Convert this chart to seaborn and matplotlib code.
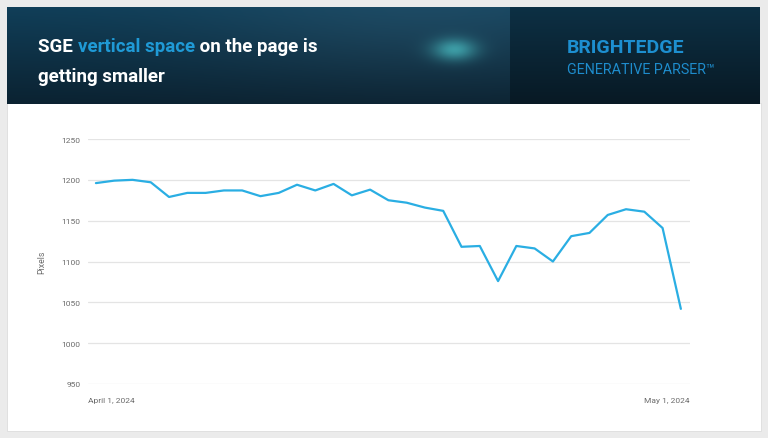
import matplotlib
matplotlib.use("Agg")
import matplotlib.pyplot as plt
import seaborn as sns
import numpy as np
import pandas as pd
from matplotlib.patches import Rectangle

# daily SGE height in pixels, April 1 -> May 1 2024
day_index = list(range(33))
pixels = [1196, 1199, 1200, 1197, 1179, 1184, 1184, 1187, 1187, 1180,
          1184, 1194, 1187, 1195, 1181, 1188, 1175, 1172, 1166, 1162,
          1118, 1119, 1076, 1119, 1116, 1100, 1131, 1135, 1157, 1164,
          1161, 1141, 1042]
y_ticks = [950, 1000, 1050, 1100, 1150, 1200, 1250]
date_labels = ["April 1, 2024", "May 1, 2024"]

title_parts = [("SGE ", "white"), ("vertical space", "#1f9ad6"), (" on the page is", "white")]
title_line2 = "getting smaller"

df = pd.DataFrame({"day": day_index, "pixels": pixels})

sns.set_style("white")
plt.rcParams["font.family"] = ["Roboto", "DejaVu Sans"]

W, H = 768, 439
fig = plt.figure(figsize=(W / 100, H / 100), dpi=100, facecolor="#ebebeb")

def fx(px):
    return px / W

def fy(py):
    return 1 - py / H

# white card (behind everything)
fig.patches.append(Rectangle((fx(7), fy(432)), fx(754), (432 - 104) / H,
                             transform=fig.transFigure, facecolor="white",
                             edgecolor="#dddddd", lw=0.6, zorder=-5))

# header banner with gradient
hx0, hx1, hy0, hy1 = 7, 760, 8, 105
hdr = fig.add_axes([fx(hx0), fy(hy1), fx(hx1 - hx0), (hy1 - hy0) / H])
hw, hh = hx1 - hx0, hy1 - hy0
yy, xx = np.mgrid[0:hh, 0:hw]
t = yy / hh
top_l = np.array([0x10, 0x3e, 0x58]) / 255
bot_l = np.array([0x0b, 0x22, 0x31]) / 255
top_r = np.array([0x0d, 0x30, 0x44]) / 255
bot_r = np.array([0x08, 0x19, 0x24]) / 255
left = top_l[None, None, :] * (1 - t[..., None]) + bot_l[None, None, :] * t[..., None]
right = top_r[None, None, :] * (1 - t[..., None]) + bot_r[None, None, :] * t[..., None]
haze = np.exp(-((xx - 420) / 220) ** 2 - ((yy - 10) / 70) ** 2)[..., None] * 0.05
img = np.where((xx < 503)[..., None], left + haze, right)
# blurred glow blob
glow = np.exp(-((xx - 447) / 22) ** 2 - ((yy - 42) / 11) ** 2)[..., None]
glow_col = np.array([0x4c, 0xc4, 0xc8]) / 255
img = img * (1 - 0.7 * glow) + glow_col * 0.7 * glow
hdr.imshow(np.clip(img, 0, 1), aspect="auto", extent=[0, hw, hh, 0],
           interpolation="nearest")
hdr.set_axis_off()

# title text, multi-coloured first line
fig.canvas.draw()
renderer = fig.canvas.get_renderer()
x = fx(38)
for txt, col in title_parts:
    tt = fig.text(x, fy(52), txt, color=col, fontsize=13.5, fontweight="bold",
                  va="baseline", ha="left")
    bb = tt.get_window_extent(renderer)
    x += bb.width / W
fig.text(fx(38), fy(82), title_line2, color="white", fontsize=13.5,
         fontweight="bold", va="baseline", ha="left")

fig.text(fx(567), fy(53), "BRIGHTEDGE", color="#1d8fd0", fontsize=14,
         fontweight="bold", va="baseline", ha="left")
fig.text(fx(567), fy(73.5), "GENERATIVE PARSER\u2122", color="#1e8ccc",
         fontsize=10.3, va="baseline", ha="left")

# chart
ax = fig.add_axes([fx(87.7), fy(385), fx(690 - 87.7), (385 - 140) / H])
sns.lineplot(data=df, x="day", y="pixels", ax=ax, color="#2aaee3", lw=1.6)
ax.set_xlim(-0.45, 32.5)
ax.set_ylim(950, 1250)
ax.set_yticks(y_ticks)
ax.set_yticklabels([str(v) for v in y_ticks])
ax.yaxis.grid(True, color="#e4e4e4", lw=0.9)
ax.xaxis.grid(False)
for s in ax.spines.values():
    s.set_visible(False)
ax.tick_params(axis="both", length=0, labelsize=6.0, labelcolor="#6b6b6b")
ax.tick_params(axis="y", pad=5)
ax.set_xticks([-0.45, 32.5])
ax.set_xticklabels(date_labels)
xt = ax.get_xticklabels()
xt[0].set_ha("left")
xt[1].set_ha("right")
ax.tick_params(axis="x", pad=9.5)
ax.set_xlabel("")
ax.set_ylabel("Pixels", fontsize=6.3, color="#6b6b6b", labelpad=11)
ax.set_facecolor("none")

fig.savefig("out.png", dpi=100, facecolor=fig.get_facecolor())
